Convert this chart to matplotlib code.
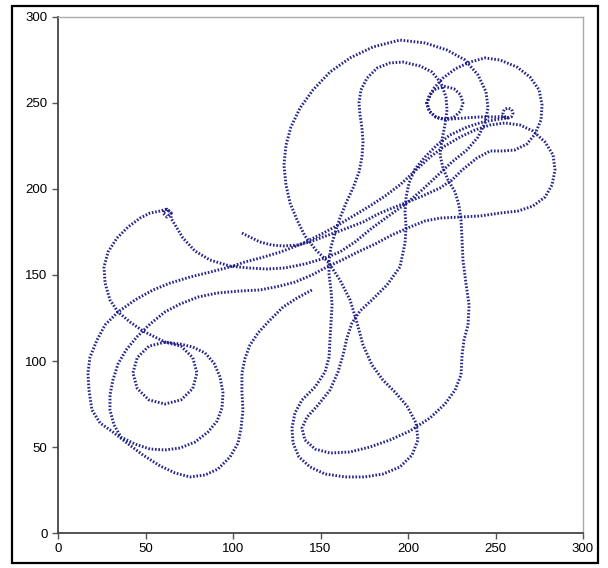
import matplotlib
matplotlib.use("Agg")
import matplotlib.pyplot as plt
from matplotlib.patches import Rectangle
import numpy as np

# ---- data: trajectory, in axis units, split into strands ----
# strand 1: free end A -> up-right -> upper-right wavy lobe
s1_x = [105.1, 109.7, 115.4, 122.3, 128.6, 136.6, 144.0, 151.4, 159.4, 166.9, 174.3, 184.0,
        195.4, 206.9, 218.3, 225.1, 230.9, 239.4, 246.9, 254.3, 261.1, 268.0, 272.6, 276.0,
        276.6, 274.9, 269.7, 262.3, 252.6, 244.0, 235.4, 226.9, 220.0, 214.9, 212.0]
s1_y = [174.4, 172.1, 169.2, 167.4, 166.9, 167.4, 169.2, 172.1, 175.0, 177.9, 180.8, 186.0,
        190.7, 195.3, 200.6, 205.2, 211.0, 218.0, 222.1, 222.1, 222.7, 226.2, 232.0, 240.1,
        248.8, 257.6, 265.1, 270.9, 275.0, 276.2, 273.8, 269.8, 264.5, 258.7, 252.9]

# strand 2: ring near (221, 250), then along to the small ring near (257, 244)
s2_x = [210.8, 212.2, 216.0, 221.1, 226.2, 230.0, 231.4, 230.0, 226.2, 221.1, 216.0, 212.2,
        210.8, 212.2, 216.0, 221.1, 232.6, 241.1, 249.7, 254.3,
        257.1, 259.2, 260.0, 259.2, 257.1, 255.0, 254.2, 255.0, 257.1]
s2_y = [250.0, 245.2, 241.7, 240.4, 241.7, 245.2, 250.0, 254.8, 258.3, 259.6, 258.3, 254.8,
        250.0, 245.2, 241.7, 240.4, 241.3, 241.9, 241.9, 242.2,
        241.3, 242.1, 244.2, 246.3, 247.1, 246.3, 244.2, 242.1, 241.3]

# strand 3: down-left, inner bottom loop, right side up, inner arch, outer bottom loop,
# big top arch and back down to the middle
s3_x = [252.6, 242.9, 233.7, 224.0, 216.6, 209.7, 204.0, 200.6, 198.9, 198.3, 198.9, 198.3,
        195.4, 188.0, 179.4, 172.6, 168.0, 165.1, 162.9, 160.0, 155.4, 148.6, 142.3, 139.4,
        141.1, 146.9, 155.4, 166.9, 178.3, 189.7, 201.1, 212.6, 221.1, 226.9, 230.3, 230.9,
        232.0, 234.3, 234.9, 233.1, 231.4, 230.9, 230.3, 229.1, 226.9, 222.9, 220.0, 218.3,
        219.4, 221.1, 222.3, 221.7, 218.9, 213.7, 206.9, 197.1, 189.7, 182.3, 176.6, 173.1,
        172.0, 172.6, 173.7, 174.3, 173.7, 172.0, 168.6, 164.6, 161.1, 158.3, 156.0, 154.9,
        154.9, 156.0, 156.6, 156.0, 155.4, 154.9, 152.6, 146.9, 139.4, 135.4, 133.7, 134.3,
        137.7, 144.0, 152.6, 164.0, 175.4, 185.7, 195.4, 202.3, 205.7, 204.6, 199.4, 192.6,
        185.7, 179.4, 174.3, 170.9, 166.9, 161.1, 154.3, 147.4, 141.1, 136.6, 132.6, 130.3,
        129.1, 130.3, 133.1, 138.3, 145.7, 155.4, 166.9, 180.0, 195.4, 209.7, 222.3, 232.6,
        240.0, 244.6, 245.7, 244.0, 240.0, 233.7, 225.1, 216.6, 208.0, 199.4, 189.7, 179.4,
        169.7, 161.1, 152.6, 141.1, 129.7, 119.4, 108.6, 98.3, 86.9, 78.3, 71.4, 66.9]
s3_y = [240.7, 239.0, 236.0, 231.4, 225.6, 218.6, 211.6, 203.5, 195.3, 186.6, 177.9, 168.6,
        154.7, 144.2, 135.5, 129.1, 122.1, 113.4, 103.5, 93.6, 83.1, 74.4, 67.4, 61.0,
        54.1, 48.8, 46.5, 47.1, 50.0, 54.1, 59.3, 66.9, 75.0, 83.1, 91.9, 103.5,
        112.2, 120.9, 132.6, 145.3, 158.7, 170.3, 181.9, 190.7, 198.3, 205.2, 212.2, 219.8,
        228.5, 237.2, 245.9, 253.5, 261.6, 268.0, 271.5, 273.8, 273.3, 270.3, 264.5, 257.6,
        250.0, 243.0, 235.5, 227.3, 218.6, 209.9, 200.6, 191.9, 183.1, 174.4, 166.3, 158.7,
        150.0, 141.3, 132.6, 122.7, 112.2, 102.3, 93.6, 84.9, 77.3, 69.8, 61.0, 52.3,
        44.2, 38.4, 34.3, 32.6, 32.6, 34.3, 38.4, 45.3, 54.1, 64.0, 73.8, 81.9,
        88.9, 97.7, 109.3, 122.1, 135.5, 147.1, 157.6, 164.5, 172.7, 182.0, 191.9, 202.3,
        213.9, 225.6, 236.0, 247.1, 257.6, 268.0, 276.2, 282.6, 286.6, 284.9, 280.8, 275.0,
        266.3, 256.4, 247.1, 238.4, 230.2, 222.7, 215.7, 207.6, 199.4, 191.9, 184.9, 177.3,
        169.2, 163.4, 159.9, 156.4, 154.1, 153.5, 154.1, 155.2, 158.7, 163.9, 171.5, 179.1]

# strand 4: small ring near (62, 186), left arc down to the ring near (61, 93)
s4_x = [64.6, 64.6, 62.3, 60.0, 62.3, 64.6, 62.3, 58.3, 52.6, 46.9, 40.0, 33.7, 28.6, 26.3,
        26.9, 29.7, 34.3, 41.1, 48.6, 55.4, 61.1,
        70.3, 77.0, 79.4, 77.0, 70.3, 61.1, 51.9, 45.3, 42.8, 45.3, 51.9, 61.1]
s4_y = [183.0, 186.0, 188.3, 186.0, 183.7, 186.0, 188.3, 187.2, 186.0, 183.1, 177.9, 171.5,
        163.4, 154.7, 145.3, 135.5, 128.5, 122.7, 117.4, 113.9, 111.0,
        108.6, 102.0, 93.0, 84.0, 77.4, 75.0, 77.4, 84.0, 93.0, 102.0, 108.6, 111.0]

# strand 5: loop round that ring, then up-right to the large right lobe and back
s5_x = [69.7, 77.1, 84.0, 89.1, 92.6, 94.3, 93.7, 90.9, 85.7, 78.3, 69.7, 61.1, 52.6, 44.0,
        36.0, 32.0, 29.7, 29.7, 31.4, 34.3, 38.9, 45.1, 52.6, 61.1, 69.7, 80.0, 90.9, 104.0,
        115.4, 126.9, 135.4, 145.1, 153.7, 162.3, 171.4, 181.1, 190.9, 201.1, 209.7, 218.3,
        229.7, 241.1, 252.6, 262.9, 271.4, 278.3, 282.3, 284.0, 282.9, 278.3, 271.4, 264.0,
        255.4, 246.9, 238.3, 229.7, 221.1, 212.6, 204.0, 195.5, 187.0, 178.0, 169.0,
        160.0, 150.0, 139.0, 127.5, 116.0, 106.9, 98.3, 86.9, 75.4, 64.0, 54.3, 44.0, 34.3]
s5_y = [109.9, 108.1, 104.7, 98.8, 90.7, 81.4, 72.7, 65.1, 58.7, 52.9, 49.4, 48.3, 48.8, 51.7,
        55.8, 62.8, 71.5, 80.2, 89.0, 98.3, 106.4, 114.0, 121.5, 128.5, 133.1, 137.2, 139.5, 140.7,
        141.3, 143.6, 145.9, 150.0, 154.7, 158.7, 163.4, 168.0, 173.3, 177.9, 181.4, 183.1,
        183.7, 184.3, 186.0, 187.2, 190.1, 195.3, 202.3, 211.0, 219.8, 227.3, 233.7, 237.2,
        238.4, 237.2, 234.3, 230.2, 225.0, 218.6, 210.5, 202.5, 196.0, 190.0, 184.5,
        179.0, 173.5, 168.0, 163.5, 160.0, 157.6, 154.7, 151.7, 148.8, 145.3, 141.3, 135.5, 128.5]

# strand 6: outer left loop and up to free end B
s6_x = [26.9, 22.3, 18.3, 17.1, 17.7, 19.4, 24.0, 31.4, 39.4, 48.6, 58.3, 66.9, 75.4, 84.0,
        91.4, 98.3, 102.9, 104.6, 105.7, 105.1, 105.1, 106.9, 109.7, 114.3, 121.1, 128.6,
        136.6, 145.1]
s6_y = [121.0, 112.2, 102.3, 93.0, 83.1, 71.5, 64.0, 58.7, 52.3, 45.3, 39.0, 34.9, 32.6, 33.7,
        37.2, 44.2, 52.3, 61.0, 71.5, 82.0, 93.0, 101.7, 109.3, 116.3, 123.8, 131.4,
        136.6, 141.3]

x_ticks = [0, 50, 100, 150, 200, 250, 300]
y_ticks = [0, 50, 100, 150, 200, 250, 300]

track_x = s1_x + s2_x + s3_x + s4_x + s5_x + s6_x
track_y = s1_y + s2_y + s3_y + s4_y + s5_y + s6_y

# ---- figure ----
W, H = 608, 568
fig = plt.figure(figsize=(W / 100, H / 100), dpi=100)
plt.rcParams['font.family'] = ['Liberation Sans', 'DejaVu Sans']

ax = fig.add_axes([58 / W, 1 - 533 / H, (583 - 58) / W, (533 - 17) / H])
ax.plot(track_x, track_y, color='#25258a', lw=2.1, linestyle=(0, (0.55, 0.6)),
        solid_capstyle='butt')

ax.set_xlim(0, 300)
ax.set_ylim(0, 300)
ax.set_xticks(x_ticks)
ax.set_yticks(y_ticks)
ax.tick_params(direction='out', length=4.5, width=1, color='#555555', labelsize=9.5,
               labelcolor='black', pad=3)
for side in ('left', 'bottom'):
    ax.spines[side].set_color('#444444')
    ax.spines[side].set_linewidth(1.3)
for side in ('top', 'right'):
    ax.spines[side].set_color('#aaaaaa')
    ax.spines[side].set_linewidth(1.0)

# outer frame of the picture
fig.patches.append(Rectangle((12 / W, 1 - 563 / H), (598 - 12) / W, (563 - 6) / H,
                             transform=fig.transFigure, fill=False, edgecolor='black',
                             linewidth=1.6))

fig.savefig('out.png', dpi=100)
